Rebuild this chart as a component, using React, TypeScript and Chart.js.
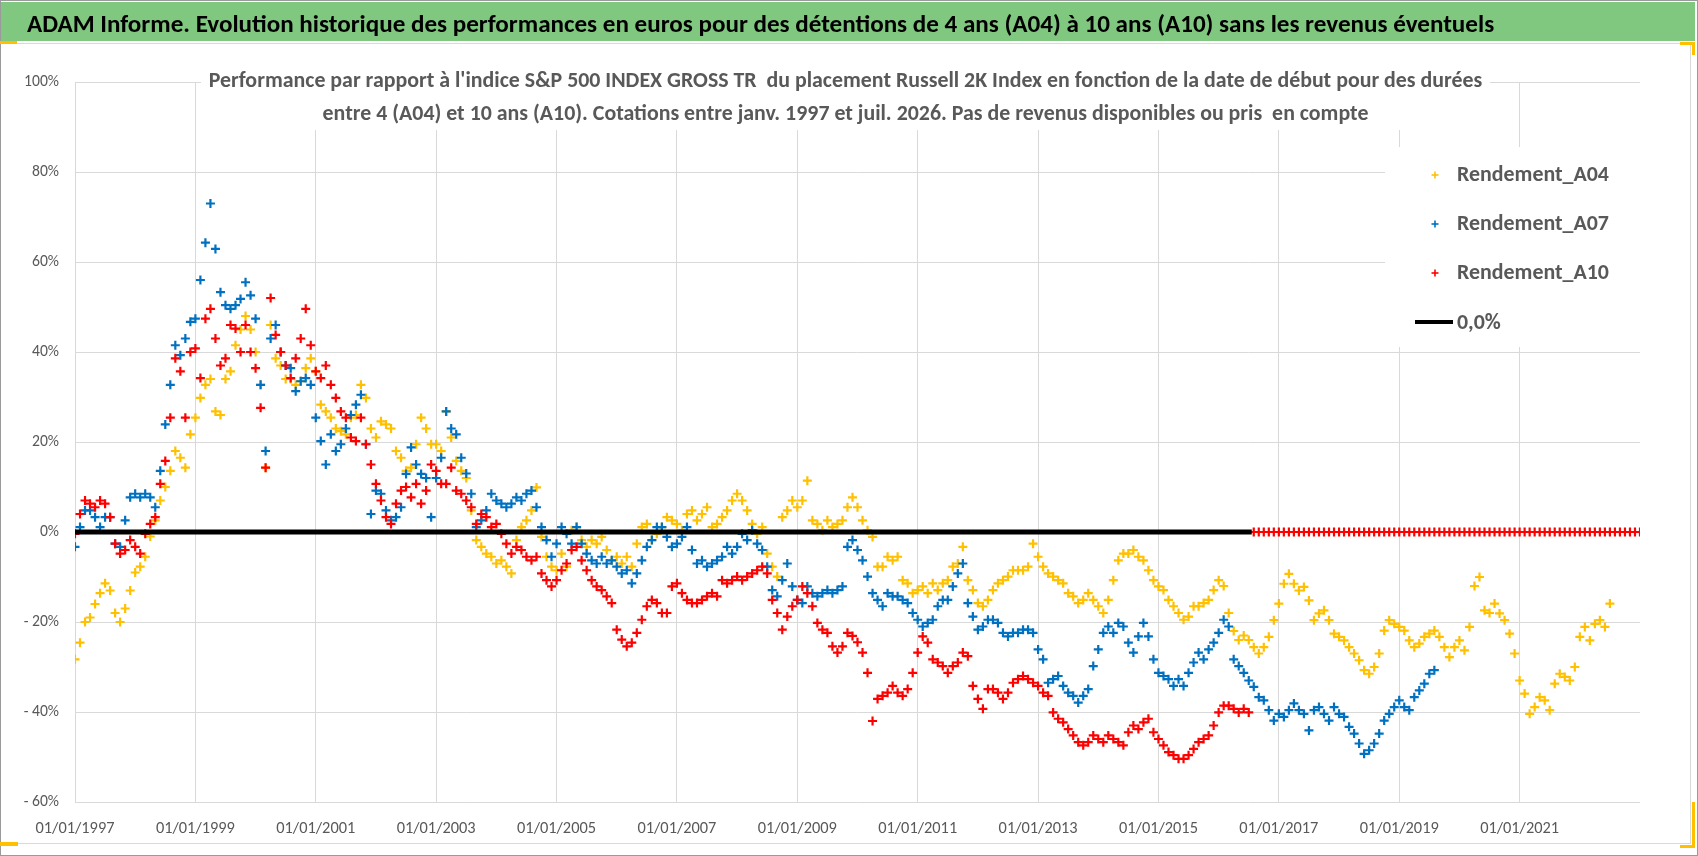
import React, { useEffect, useRef } from 'react';
import { Chart, registerables } from 'chart.js';

Chart.register(...registerables);

// ---------------- data (monthly readings, % vs S&P 500 INDEX GROSS TR) ----------------
const TITLE =
  'ADAM Informe. Evolution historique des performances en euros pour des détentions de 4 ans (A04) à 10 ans (A10) sans les revenus éventuels';
const SUBTITLE_LINES = [
  "Performance par rapport à l'indice S&P 500 INDEX GROSS TR  du placement Russell 2K Index en fonction de la date de début pour des durées",
  'entre 4 (A04) et 10 ans (A10). Cotations entre janv. 1997 et juil. 2026. Pas de revenus disponibles ou pris  en compte',
];
const SERIES_NAMES = ['Rendement_A04', 'Rendement_A07', 'Rendement_A10', '0,0%'];
const SERIES_COLORS = ['#FFC000', '#0070C0', '#FF0000', '#000000'];

const X_TICK_YEARS = [1997, 1999, 2001, 2003, 2005, 2007, 2009, 2011, 2013, 2015, 2017, 2019, 2021];
const Y_TICKS = [-60, -40, -20, 0, 20, 40, 60, 80, 100];

const A04_START = 1997; // first month: January 1997, one value per month
const A04_VALUES = [
  -28.3, -24.6, -20, -19, -16, -13.6, -11.4, -13, -18, -20, -17, -13,
  -9, -7.7, -5.5, -1, 2.6, 7, 10, 13.6, 18, 16.5, 14.3, 21.7,
  25.4, 29.8, 32.7, 34, 26.8, 26, 34, 35.7, 41.5, 45, 48, 45,
  40, 32.7, 14.3, 46, 38.6, 37, 34, 34, 32.7, 33.5, 36.4, 38.6,
  35.7, 28.3, 26.8, 25.4, 23, 22.4, 21.7, 25.4, 26, 32.7, 29.8, 23,
  21, 24.6, 23.9, 23, 18, 16.5, 13.6, 14.3, 19.5, 25.4, 23, 19.5,
  19.5, 18, 26.8, 21, 15.8, 13.6, 12, 4.8, -1.8, -3.3, -4.8, -5.5,
  -7, -6.3, -7.7, -9.2, -1.8, 1.1, 2.6, 4.8, 9.9, -1.1, -5.5, -7.7,
  -8.5, -4.8, -7.7, 0.4, 1.1, -1.8, -3.3, -1.8, -2.6, -1.1, -4, -6.3,
  -5.5, -7, -5.5, -7.7, -2.6, 1.1, 1.8, -1.8, -0.4, 1.1, 3.3, 2.6,
  1.8, 0.4, 4, 4.8, 2.6, 4, 5.5, 1.1, 1.8, 3.3, 4.8, 7,
  8.5, 7, 4.8, 1.8, -0.4, 1.1, -4.8, -7.7, -9.9, 3.3, 4.8, 7,
  5.5, 7, 11.4, 2.6, 1.8, 0.4, 2.6, 1.1, 1.8, 2.6, 5.5, 7.7,
  5.5, 2.6, 0.4, -1.1, -7.7, -7.7, -5.5, -6.3, -5.5, -10.7, -11.4, -13.6,
  -12.9, -12.1, -13.6, -11.4, -12.9, -11.4, -10.7, -7.7, -7, -3.3, -10.7, -12.9,
  -15.8, -16.5, -15.1, -12.9, -11.4, -10.7, -9.9, -8.5, -8.5, -8.5, -7.7, -2.6,
  -5.5, -7.7, -9.2, -9.9, -10.7, -11.4, -13.6, -14.3, -15.8, -15.1, -13.6, -15.1,
  -16.5, -18, -15.1, -10.7, -6.3, -4.8, -4.8, -4, -5.5, -6.3, -8.5, -10.7,
  -12.1, -12.9, -15.1, -16.5, -18, -19.5, -18.8, -16.5, -16.5, -15.8, -15.1, -12.9,
  -10.7, -12, -18, -22, -24, -23, -24, -25.6, -27, -25.6, -23.3, -19.6,
  -15.9, -11.5, -9.3, -11.5, -13, -12.2, -15.2, -19.6, -18.1, -17.4, -19.6, -22.6,
  -23.3, -24.1, -25.6, -27, -28.5, -30.7, -31.5, -30, -27, -21.9, -19.6, -20.4,
  -21.1, -21.9, -24.1, -25.6, -24.8, -23.3, -22.6, -21.9, -23.3, -25.6, -27.8, -25.6,
  -24.1, -26.3, -21.1, -12, -10, -17.4, -18, -15.9, -18.1, -19.6, -22.6, -27,
  -33, -35.9, -40.4, -38.9, -36.7, -37.4, -39.6, -33.7, -31.5, -32.2, -33, -30,
  -23.3, -21.1, -24.1, -20.4, -19.6, -21.1, -15.9,
];

const A07_START = 1997;
const A07_VALUES = [
  -3.3, 1.1, 4.8, 4.8, 3.3, 1.1, 3.3, 3.3, -2.6, -3.3, 2.6, 7.7,
  8.5, 7.7, 8.5, 7.7, 5.5, 13.6, 23.9, 32.7, 41.5, 39.3, 43, 46.7,
  47.4, 56, 64.3, 73, 62.9, 53.3, 50.4, 49.6, 50.4, 51.8, 55.5, 52.6,
  47.4, 32.7, 18, 43, 46, 40, 37, 36.4, 31.3, 33.5, 34.2, 32.7,
  25.4, 20.2, 15, 21.7, 18, 19.5, 23, 26, 28.3, 30.5, 19.5, 4,
  9.2, 8.5, 4.8, 2.6, 3.3, 5.5, 12.9, 18.8, 15, 12.9, 12, 3.3,
  12, 16.5, 26.8, 23, 21.7, 16.5, 13, 8.5, 1.1, 2.6, 4.8, 8.5,
  7, 6.3, 5.5, 6.3, 7.7, 7, 8.5, 9.2, 5.5, 1.1, -1.8, -5.5,
  -2.6, 1.1, -0.4, -2.6, 1.1, -2.6, -4.8, -6.3, -7, -5.5, -7, -6.3,
  -7.7, -9.2, -8.5, -11.4, -9.2, -6.3, -3.3, -1.8, 1.1, 1.1, -1.1, -3.3,
  -2.6, -1.1, 1.1, -4, -7, -6.3, -7.7, -7, -6.3, -5.5, -3.3, -4.8,
  -3.3, -0.4, -1.8, 0.4, -2.6, -4, -7.7, -12.9, -14.3, -10.7, -7, -12.1,
  -15.1, -15.8, -12.1, -13.6, -14.3, -13.6, -12.9, -13.6, -12.9, -12.1, -3.3, -1.8,
  -4, -6.3, -9.9, -13.6, -15.1, -16.5, -13.6, -14.3, -14.3, -15.1, -15.8, -18,
  -19.5, -21, -20.2, -19.5, -16.5, -15.1, -15.1, -12.1, -9.2, -7, -15.8, -18.8,
  -21.7, -21, -19.5, -19.5, -20.2, -22.4, -23.2, -22.4, -22.4, -21.7, -21.7, -22.4,
  -26.1, -28.3, -33.5, -32.7, -32, -34.2, -35.7, -36.4, -37.9, -36.4, -34.9, -29.8,
  -26.1, -22.4, -21, -22.4, -20.2, -21, -24.6, -26.8, -23.2, -20.2, -23.2, -28.3,
  -31.3, -32, -32.7, -34.2, -32.7, -34.2, -31.3, -29, -26.8, -28.3, -26.1, -24.6,
  -22.4, -19.5, -21, -28.3, -29.8, -31.3, -33, -34.4, -36.7, -37.4, -39.6, -41.9,
  -40.4, -41.1, -39.6, -38.1, -39.6, -40.4, -44.1, -39.6, -38.9, -40.4, -41.9, -38.9,
  -40.4, -41.1, -43.3, -44.8, -47, -49.3, -48.5, -47, -44.8, -41.9, -40.4, -38.9,
  -37.4, -38.9, -39.6, -36.7, -35.2, -33.7, -31.5, -30.7,
];

const A10_START = 1997;
const A10_VALUES = [
  -0.4, 4, 7, 6.3, 5.5, 7, 6.3, 3.3, -2.6, -4.8, -4, -1.8,
  -3.3, -4.8, -0.4, 1.8, 3.3, 10.7, 15.8, 25.4, 38.6, 35.7, 25.4, 40,
  40.8, 34.2, 47.4, 49.6, 43, 37, 38.6, 46, 45.2, 40, 46, 40,
  36.4, 27.6, 14.3, 52, 43.8, 40, 37, 34.2, 38.6, 43, 49.6, 41.5,
  35.7, 34.2, 37, 32.7, 29.8, 26.8, 25.4, 21, 20.2, 25.4, 19.5, 15,
  10.7, 7, 3.3, 1.8, 6.3, 9.2, 10, 7.7, 10.7, 6.3, 9.2, 15,
  13.6, 10.7, 10.7, 14.3, 9.2, 8.5, 7, 5.5, 1.8, 4, 3.3, 1.1,
  1.8, -0.4, -2.6, -4.8, -3.3, -4, -5.5, -6.3, -5.5, -9.2, -10.7, -12.1,
  -10.7, -8.5, -7, -4, -3.3, -6.3, -8.5, -10.7, -12.1, -12.9, -14.3, -15.8,
  -21.7, -23.9, -25.4, -24.6, -22.4, -19.5, -16.5, -15.1, -15.8, -18, -18, -12.1,
  -11.4, -13.6, -15.1, -15.8, -15.8, -15.1, -14.3, -13.6, -14.3, -10.7, -11.4, -10.7,
  -9.9, -10.7, -9.9, -9.2, -8.5, -7.7, -9.2, -15.1, -18, -21.7, -18.8, -16.5,
  -15.1, -12.1, -13.6, -16.5, -20.2, -21.7, -22.4, -25.4, -26.8, -25.4, -22.4, -23.1,
  -24.5, -26.8, -31.3, -42, -37.1, -36.4, -35.7, -34.2, -35.7, -36.4, -34.9, -31.3,
  -26.8, -23.2, -24.6, -28.3, -29, -29.8, -31.3, -29.8, -29, -26.8, -27.6, -34.2,
  -37.1, -39.3, -34.9, -34.9, -35.7, -37.1, -35.7, -33.5, -32.7, -32, -32.7, -33.5,
  -34.2, -35.7, -36.4, -40.1, -41.5, -42.3, -43.8, -45.2, -46.7, -47.4, -46.7, -45.2,
  -46, -46.7, -45.2, -46, -46.7, -47.4, -44.5, -43, -43.8, -42.3, -41.5, -44.5,
  -46, -47.4, -48.9, -49.6, -50.4, -50.4, -49.6, -48.2, -46.7, -46, -45.2, -43,
  -40.1, -38.6, -38.6, -39.3, -40.1, -39.3, -40.1, 0, 0, 0, 0, 0,
  0, 0, 0, 0, 0, 0, 0, 0, 0, 0, 0, 0,
  0, 0, 0, 0, 0, 0, 0, 0, 0, 0, 0, 0,
  0, 0, 0, 0, 0, 0, 0, 0, 0, 0, 0, 0,
  0, 0, 0, 0, 0, 0, 0, 0, 0, 0, 0, 0,
  0, 0, 0, 0, 0, 0, 0, 0, 0, 0, 0, 0,
  0, 0, 0, 0, 0, 0, 0, 0, 0, 0, 0, 0,
  0,
];

const ZERO_LINE_DATES = [1997, 2016.55];
const ZERO_LINE_VALUES = [0, 0];

// ---------------- layout / style ----------------
const W = 1698;
const H = 856;
const PLOT = { left: 75, right: 1640, top: 82, bottom: 802 };
const GRAY_TEXT = '#595959';
const GRID = '#d9d9d9';
const FAMILY_CANDIDATES = ['Carlito', 'Lato', 'Liberation Sans'];

const monthly = (start: number, values: number[]) =>
  values.map((v, i) => ({ x: start + i / 12, y: v }));

const measure = (text: string, font: string) => {
  const ctx = document.createElement('canvas').getContext('2d') as CanvasRenderingContext2D;
  ctx.font = font;
  return ctx.measureText(text).width;
};
const isInstalled = (fam: string) => {
  const probe = 'abcdefghijklmnopqrstuvwxyz ABCDEFGHIJKLM 0123456789 %/_';
  return (
    measure(probe, `100px '${fam}', monospace`) !== measure(probe, '100px monospace') ||
    measure(probe, `100px '${fam}', serif`) !== measure(probe, '100px serif')
  );
};
const pickFamily = () => {
  for (const f of FAMILY_CANDIDATES) if (isInstalled(f)) return `'${f}', sans-serif`;
  return 'sans-serif';
};
const fitSize = (text: string, weight: string, family: string, target: number) =>
  (100 * target) / measure(text, `${weight} 100px ${family}`);

function PlusMark({ x, y, color }: { x: number; y: number; color: string }) {
  return (
    <svg width={10} height={10} style={{ position: 'absolute', left: x - 5, top: y - 5 }}>
      <line x1={1.5} y1={5} x2={8.5} y2={5} stroke={color} strokeWidth={1.6} />
      <line x1={5} y1={1.5} x2={5} y2={8.5} stroke={color} strokeWidth={1.6} />
    </svg>
  );
}

const FAMILY = pickFamily();

export default function App() {
  const canvasRef = useRef<HTMLCanvasElement | null>(null);

  useEffect(() => {
    document.body.style.margin = '0';
    const canvas = canvasRef.current;
    if (!canvas) return;
    const xTickSize = Math.min(18, fitSize('01/01/1997', 'normal', FAMILY, 79));
    const yTickSize = Math.min(16, fitSize('100%', 'normal', FAMILY, 35));
    const cross = (label: string, color: string, data: { x: number; y: number }[], order: number) => ({
      type: 'scatter' as const,
      label,
      data,
      order,
      showLine: false,
      pointStyle: 'cross',
      pointRadius: 4.5,
      pointBorderWidth: 2.2,
      borderColor: color,
      backgroundColor: color,
      pointBorderColor: color,
      pointBackgroundColor: color,
    });
    const chart = new Chart(canvas, {
      type: 'scatter',
      data: {
        datasets: [
          cross(SERIES_NAMES[0], SERIES_COLORS[0], monthly(A04_START, A04_VALUES), 4),
          cross(SERIES_NAMES[1], SERIES_COLORS[1], monthly(A07_START, A07_VALUES), 3),
          cross(SERIES_NAMES[2], SERIES_COLORS[2], monthly(A10_START, A10_VALUES), 2),
          {
            type: 'line' as const,
            label: SERIES_NAMES[3],
            data: ZERO_LINE_DATES.map((d, i) => ({ x: d, y: ZERO_LINE_VALUES[i] })),
            order: 1,
            borderColor: SERIES_COLORS[3],
            borderWidth: 5,
            pointRadius: 0,
            fill: false,
            tension: 0,
          } as any,
        ],
      },
      options: {
        animation: false,
        responsive: false,
        events: [],
        layout: { padding: { top: PLOT.top, right: W - PLOT.right, left: 0, bottom: 0 } },
        plugins: { legend: { display: false }, tooltip: { enabled: false }, title: { display: false } },
        scales: {
          x: {
            type: 'linear',
            min: 1997,
            max: 2023,
            afterBuildTicks: (s: any) => {
              s.ticks = X_TICK_YEARS.map((v) => ({ value: v }));
            },
            afterFit: (s: any) => {
              s.height = H - PLOT.bottom;
            },
            grid: { color: GRID, lineWidth: 1, drawTicks: false },
            border: { display: false },
            ticks: {
              autoSkip: false,
              maxRotation: 0,
              padding: 17,
              color: GRAY_TEXT,
              font: { family: FAMILY, size: xTickSize },
              callback: (v: any) => `01/01/${v}`,
            },
          },
          y: {
            type: 'linear',
            min: -60,
            max: 100,
            afterBuildTicks: (s: any) => {
              s.ticks = Y_TICKS.map((v) => ({ value: v }));
            },
            afterFit: (s: any) => {
              s.width = PLOT.left;
            },
            grid: { color: GRID, lineWidth: 1, drawTicks: false },
            border: { display: false },
            ticks: {
              padding: 16,
              color: GRAY_TEXT,
              font: { family: FAMILY, size: yTickSize },
              callback: (v: any) => (v < 0 ? `- ${-v}%` : `${v}%`),
            },
          },
        },
      } as any,
    });
    return () => chart.destroy();
  }, []);

  const titleSize = fitSize(TITLE, 'bold', FAMILY, 1468);
  const subSize = fitSize(SUBTITLE_LINES[0], 'bold', FAMILY, 1275);
  const legSize = fitSize(SERIES_NAMES[0], 'bold', FAMILY, 152);

  const legendRows = [174, 223, 272, 322];

  return (
    <div style={{ position: 'relative', width: W, height: H, overflow: 'hidden', background: '#fff' }}>
      <canvas ref={canvasRef} width={W} height={H} style={{ position: 'absolute', left: 0, top: 0, width: W, height: H }} />

      {/* frame */}
      <div style={{ position: 'absolute', left: 0, top: 0, width: W, height: H, boxSizing: 'border-box', border: '1px solid #9a9a9a', pointerEvents: 'none' }} />
      <div style={{ position: 'absolute', left: 0, top: 43, width: 1691, height: 801, boxSizing: 'border-box', border: '1px solid #d9d9d9', borderLeft: 'none', pointerEvents: 'none' }} />
      <div style={{ position: 'absolute', left: 0, top: 41, width: 17, height: 3, background: '#FFC000' }} />
      <div style={{ position: 'absolute', left: 0, top: 842, width: 18, height: 4, background: '#FFC000' }} />
      <div style={{ position: 'absolute', left: 1680, top: 42, width: 15, height: 3, background: '#FFC000' }} />
      <div style={{ position: 'absolute', left: 1692, top: 42, width: 3, height: 13, background: '#FFC000' }} />
      <div style={{ position: 'absolute', left: 1692, top: 802, width: 3, height: 46, background: '#FFC000' }} />
      <div style={{ position: 'absolute', left: 1680, top: 845, width: 15, height: 3, background: '#FFC000' }} />

      {/* title bar */}
      <div style={{ position: 'absolute', left: 1, top: 2, width: 1694, height: 39, background: '#80c880' }} />
      <div
        style={{
          position: 'absolute',
          left: 27,
          top: 24 - 20,
          height: 40,
          lineHeight: '40px',
          fontFamily: FAMILY,
          fontWeight: 'bold',
          fontSize: titleSize,
          color: '#000',
          whiteSpace: 'pre',
        }}
      >
        {TITLE}
      </div>

      {/* subtitle inside plot */}
      <div style={{ position: 'absolute', left: 201, top: 60, width: 1289, height: 70, background: '#fff' }} />
      {SUBTITLE_LINES.map((line, i) => (
        <div
          key={i}
          style={{
            position: 'absolute',
            left: 201,
            width: 1289,
            textAlign: 'center',
            top: [80, 112.5][i] - 16,
            height: 32,
            lineHeight: '32px',
            fontFamily: FAMILY,
            fontWeight: 'bold',
            fontSize: subSize,
            color: GRAY_TEXT,
            whiteSpace: 'pre',
          }}
        >
          {line}
        </div>
      ))}

      {/* legend */}
      <div style={{ position: 'absolute', left: 1385, top: 147, width: 255, height: 200, background: '#fff' }} />
      {SERIES_NAMES.map((name, i) => (
        <React.Fragment key={name}>
          {i < 3 ? (
            <PlusMark x={1435} y={legendRows[i] + 1} color={SERIES_COLORS[i]} />
          ) : (
            <div style={{ position: 'absolute', left: 1415, top: legendRows[i] - 2, width: 38, height: 4, background: '#000' }} />
          )}
          <div
            style={{
              position: 'absolute',
              left: 1457,
              top: legendRows[i] - 16,
              height: 32,
              lineHeight: '32px',
              fontFamily: FAMILY,
              fontWeight: 'bold',
              fontSize: legSize,
              color: GRAY_TEXT,
              whiteSpace: 'pre',
            }}
          >
            {name}
          </div>
        </React.Fragment>
      ))}
    </div>
  );
}
